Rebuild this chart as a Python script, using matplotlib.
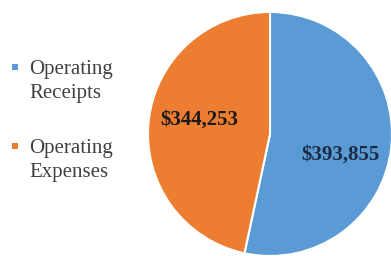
import matplotlib.pyplot as plt
from matplotlib.lines import Line2D
from matplotlib.patches import Rectangle
from matplotlib.legend_handler import HandlerBase

# --- DATA ---
categories = ['Operating\nReceipts', 'Operating\nExpenses']
values = [393855, 344253]
colors = ['#5B9BD5', '#ED7D31']
label_colors = ['#1c2b45', '#1a1a1a']

plt.rcParams['font.family'] = ['Liberation Serif', 'DejaVu Serif']

fig = plt.figure(figsize=(3.91, 2.56), dpi=100, facecolor='white')

# pie axes: centre ~ (270, 134) px, radius ~122 px
ax = fig.add_axes([148 / 391, 0 / 256, 244 / 391, 244 / 256])
wedges, texts, autotexts = ax.pie(
    values,
    colors=colors,
    startangle=90,
    counterclock=False,
    autopct=lambda p: '${:,.0f}'.format(p * sum(values) / 100),
    pctdistance=0.62,
    wedgeprops=dict(edgecolor='white', linewidth=1.5),
    textprops=dict(fontsize=15, fontweight='bold'),
)
# small nudges so the labels sit where the original ones do
nudges = [(-0.04, -0.105), (0.04, 0.05)]
for t, c, (dx, dy) in zip(autotexts, label_colors, nudges):
    t.set_color(c)
    x, y = t.get_position()
    t.set_position((x + dx, y + dy))
ax.set_xlim(-1.0, 1.0)
ax.set_ylim(-1.0, 1.0)
ax.set_aspect('equal')

LINESP = 1.35


# legend marker sitting on the first text line, like the original
class TopSquare(HandlerBase):
    def create_artists(self, legend, orig_handle, xdescent, ydescent,
                       width, height, fontsize, trans):
        s = 4.3
        x0 = -xdescent + (width - s) / 2
        y0 = -ydescent + height / 2 - s / 2 + 0.5 * LINESP * fontsize
        r = Rectangle((x0, y0), s, s, facecolor=orig_handle.get_markerfacecolor(),
                      edgecolor='none', transform=trans)
        return [r]


handles = [Line2D([0], [0], marker='s', linestyle='none',
                  markerfacecolor=c, markeredgecolor=c) for c in colors]
leg = fig.legend(handles, categories, loc='center left',
                 bbox_to_anchor=(11 / 391, 0.527), frameon=False,
                 fontsize=15, handlelength=0.4, handletextpad=0.47,
                 labelspacing=1.75, borderpad=0, borderaxespad=0,
                 labelcolor='#404040',
                 handler_map={Line2D: TopSquare()})
for t in leg.get_texts():
    t.set_linespacing(LINESP)

fig.savefig('out.png', dpi=100, facecolor='white')
